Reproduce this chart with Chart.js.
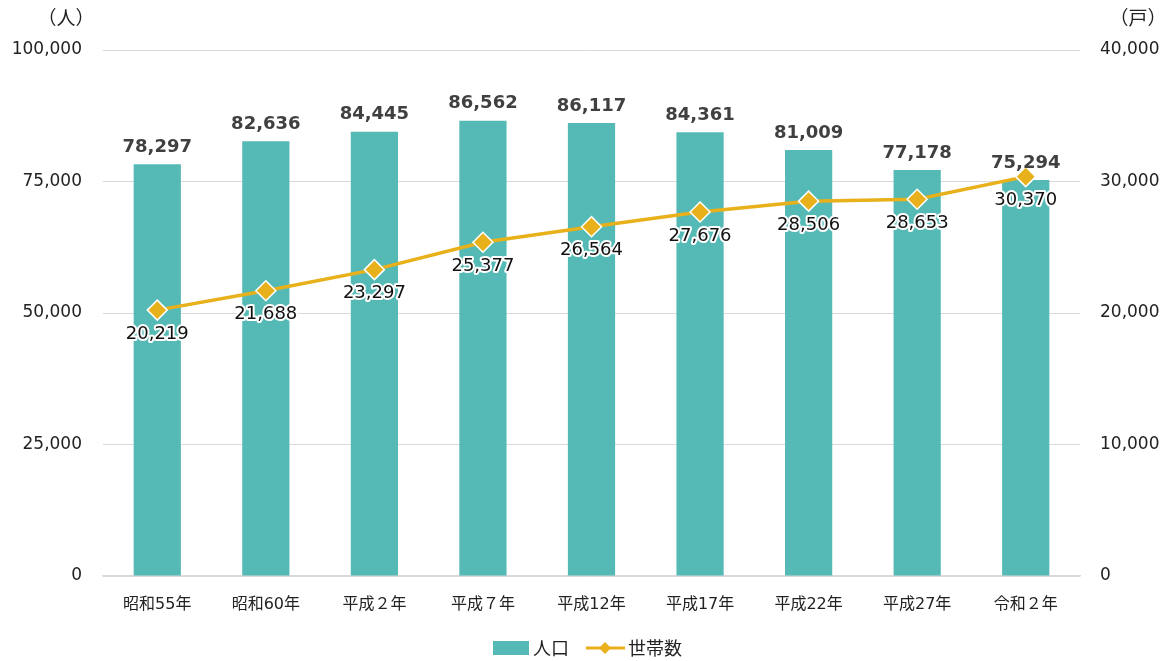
<!DOCTYPE html>
<html><head><meta charset="utf-8">
<script src="https://cdn.jsdelivr.net/npm/chart.js@4.4.1/dist/chart.umd.min.js"></script>
<style>html,body{margin:0;padding:0;background:#fff;}#wrap{width:1171px;height:661px;position:relative;}</style>
</head><body><div id="wrap"><canvas id="c" width="1171" height="661"></canvas></div>
<script>
const categories = ['昭和55年','昭和60年','平成２年','平成７年','平成12年','平成17年','平成22年','平成27年','令和２年'];
const population = [78297, 82636, 84445, 86562, 86117, 84361, 81009, 77178, 75294];
const households = [20219, 21688, 23297, 25377, 26564, 27676, 28506, 28653, 30370];
const leftTicks = [0, 25000, 50000, 75000, 100000];
const rightTicks = [0, 10000, 20000, 30000, 40000];

const FONT = '"DejaVu Sans", "Noto Sans CJK JP", sans-serif';
const JFONT = '"Noto Sans CJK JP", "DejaVu Sans", sans-serif';
const BAR_COLOR = '#55BAB5';
const LINE_COLOR = '#E8B01A';
const fmt = v => v.toLocaleString('en-US');

const labelPlugin = {
  id: 'labels',
  afterDatasetsDraw(chart) {
    const ctx = chart.ctx;
    ctx.save();
    ctx.textAlign = 'center';
    ctx.textBaseline = 'middle';
    const mb = chart.getDatasetMeta(0);
    ctx.font = 'bold 18px ' + FONT;
    ctx.fillStyle = '#404040';
    mb.data.forEach((el, i) => {
      ctx.fillText(fmt(population[i]), el.x, el.y - 17);
    });
    const ml = chart.getDatasetMeta(1);
    ctx.font = '18px ' + FONT;
    ml.data.forEach((el, i) => {
      const t = fmt(households[i]);
      ctx.lineWidth = 4;
      ctx.strokeStyle = '#ffffff';
      ctx.lineJoin = 'round';
      ctx.strokeText(t, el.x, el.y + 24);
      ctx.fillStyle = '#111111';
      ctx.fillText(t, el.x, el.y + 24);
    });
    ctx.restore();
  },
  afterDraw(chart) {
    const ctx = chart.ctx;
    ctx.save();
    ctx.font = '19px ' + JFONT;
    ctx.fillStyle = '#222';
    ctx.textBaseline = 'middle';
    ctx.textAlign = 'center';
    ctx.fillText('（人）', 66, 18);
    ctx.fillText('（戸）', 1138, 18);
    const ly = 648;
    ctx.fillStyle = BAR_COLOR;
    ctx.fillRect(493, ly - 7, 36, 14);
    ctx.fillStyle = '#222';
    ctx.textAlign = 'left';
    ctx.font = '18px ' + JFONT;
    ctx.fillText('人口', 533, ly);
    ctx.strokeStyle = LINE_COLOR;
    ctx.lineWidth = 3;
    ctx.beginPath(); ctx.moveTo(586, ly); ctx.lineTo(625, ly); ctx.stroke();
    ctx.fillStyle = LINE_COLOR;
    ctx.beginPath();
    ctx.moveTo(605, ly - 6); ctx.lineTo(611, ly); ctx.lineTo(605, ly + 6); ctx.lineTo(599, ly); ctx.closePath();
    ctx.fill();
    ctx.fillStyle = '#222';
    ctx.fillText('世帯数', 628, ly);
    ctx.restore();
  }
};

new Chart(document.getElementById('c'), {
  data: {
    labels: categories,
    datasets: [
      {
        type: 'bar', label: '人口', data: population, yAxisID: 'y',
        backgroundColor: BAR_COLOR, borderWidth: 0,
        barPercentage: 0.435, categoryPercentage: 1.0, order: 2
      },
      {
        type: 'line', label: '世帯数', data: households, yAxisID: 'y1',
        borderColor: LINE_COLOR, borderWidth: 3.5, backgroundColor: LINE_COLOR,
        pointStyle: 'rectRot', pointRadius: 10, pointHoverRadius: 10,
        pointBorderColor: '#ffffff', pointBorderWidth: 1.5, pointBackgroundColor: LINE_COLOR,
        tension: 0, order: 1
      }
    ]
  },
  options: {
    responsive: false, animation: false,
    layout: { padding: { top: 50, bottom: 45, left: 0, right: 0 } },
    plugins: { legend: { display: false }, tooltip: { enabled: false } },
    scales: {
      x: {
        grid: { display: false },
        border: { color: '#d9d9d9', width: 1.5 },
        ticks: { font: { size: 16, family: FONT }, color: '#222', padding: 11, maxRotation: 0 },
        afterFit(s) { s.height = 40; }
      },
      y: {
        position: 'left', min: 0, max: 100000,
        afterBuildTicks(s) { s.ticks = leftTicks.map(v => ({ value: v })); },
        ticks: { font: { size: 17, family: FONT }, color: '#222', padding: 21, callback: v => fmt(v) },
        grid: { color: '#d9d9d9', drawTicks: false, lineWidth: 1 },
        border: { display: false },
        afterFit(s) { s.width = 103; }
      },
      y1: {
        position: 'right', min: 0, max: 40000,
        afterBuildTicks(s) { s.ticks = rightTicks.map(v => ({ value: v })); },
        ticks: { font: { size: 17, family: FONT }, color: '#222', padding: 20, callback: v => fmt(v) },
        grid: { display: false, drawTicks: false },
        border: { display: false },
        afterFit(s) { s.width = 91; }
      }
    }
  },
  plugins: [labelPlugin]
});
</script></body></html>
